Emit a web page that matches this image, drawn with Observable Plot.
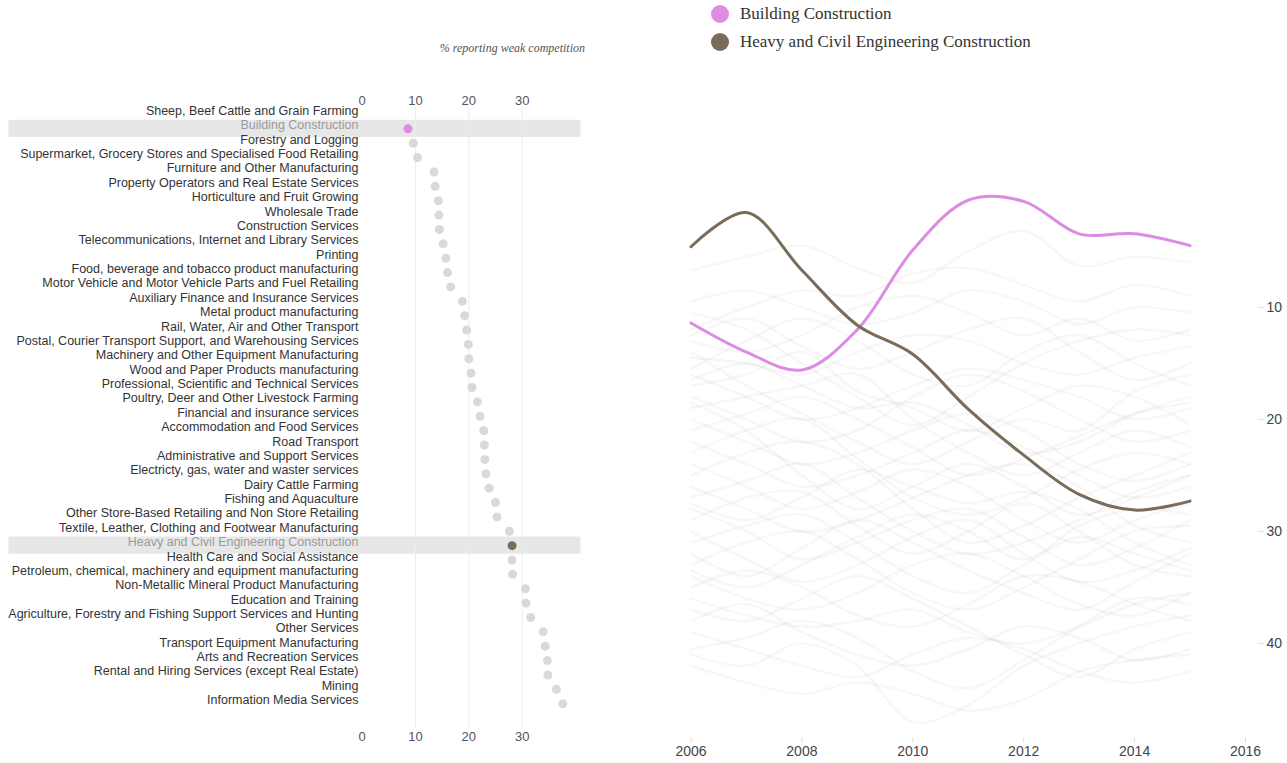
<!DOCTYPE html>
<html>
<head>
<meta charset="utf-8">
<script src="https://cdn.jsdelivr.net/npm/d3@7"></script>
<script src="https://cdn.jsdelivr.net/npm/@observablehq/plot@0.6"></script>
<style>
  html, body { margin: 0; padding: 0; background: #fff; }
  body { width: 1287px; height: 763px; position: relative; overflow: hidden; font-family: "Liberation Sans", Arial, sans-serif; }
  #title { position: absolute; left: 280px; width: 305px; top: 41px; text-align: right; font-family: "Liberation Serif", "Times New Roman", serif; font-style: italic; font-size: 12px; color: #555; }
  #left { position: absolute; left: 0; top: 0; }
  #right { position: absolute; left: 600px; top: 0; }
  #legend { position: absolute; left: 711px; top: 0px; font-family: "Liberation Serif", "Times New Roman", serif; font-size: 17px; color: #333; }
  .item { display: flex; align-items: center; height: 28px; }
  .sw { width: 18px; height: 18px; border-radius: 50%; margin-right: 11px; }
</style>
</head>
<body>
<div id="title">% reporting weak competition</div>
<div id="left"></div>
<div id="right"></div>
<div id="legend"></div>
<script>
// ---------- data ----------
const industries = [
  "Sheep, Beef Cattle and Grain Farming",
  "Building Construction",
  "Forestry and Logging",
  "Supermarket, Grocery Stores and Specialised Food Retailing",
  "Furniture and Other Manufacturing",
  "Property Operators and Real Estate Services",
  "Horticulture and Fruit Growing",
  "Wholesale Trade",
  "Construction Services",
  "Telecommunications, Internet and Library Services",
  "Printing",
  "Food, beverage and tobacco product manufacturing",
  "Motor Vehicle and Motor Vehicle Parts and Fuel Retailing",
  "Auxiliary Finance and Insurance Services",
  "Metal product manufacturing",
  "Rail, Water, Air and Other Transport",
  "Postal, Courier Transport Support, and Warehousing Services",
  "Machinery and Other Equipment Manufacturing",
  "Wood and Paper Products manufacturing",
  "Professional, Scientific and Technical Services",
  "Poultry, Deer and Other Livestock Farming",
  "Financial and insurance services",
  "Accommodation and Food Services",
  "Road Transport",
  "Administrative and Support Services",
  "Electricty, gas, water and waster services",
  "Dairy Cattle Farming",
  "Fishing and Aquaculture",
  "Other Store-Based Retailing and Non Store Retailing",
  "Textile, Leather, Clothing and Footwear Manufacturing",
  "Heavy and Civil Engineering Construction",
  "Health Care and Social Assistance",
  "Petroleum, chemical, machinery and equipment manufacturing",
  "Non-Metallic Mineral Product Manufacturing",
  "Education and Training",
  "Agriculture, Forestry and Fishing Support Services and Hunting",
  "Other Services",
  "Transport Equipment Manufacturing",
  "Arts and Recreation Services",
  "Rental and Hiring Services (except Real Estate)",
  "Mining",
  "Information Media Services"
];
const weakPct = [null, 8.6, 9.6, 10.4, 13.5, 13.7, 14.3, 14.4, 14.5, 15.2, 15.7, 16.0, 16.6,
  18.8, 19.2, 19.6, 19.9, 20.0, 20.4, 20.6, 21.6, 22.1, 22.8, 22.9, 23.0, 23.2, 23.8, 25.0,
  25.3, 27.6, 28.1, 28.1, 28.2, 30.6, 30.7, 31.6, 33.9, 34.3, 34.7, 34.8, 36.4, 37.6];

const highlightNames = ["Building Construction", "Heavy and Civil Engineering Construction"];
const highlightColors = ["#dc8ce2", "#7b6b5a"];

const years = [2006, 2007, 2008, 2009, 2010, 2011, 2012, 2013, 2014, 2015];
const buildingRanks = [11.4, 14.0, 15.6, 12.0, 4.9, 0.45, 0.55, 3.45, 3.45, 4.5];
const heavyRanks = [4.6, 1.55, 6.7, 11.6, 14.2, 19.1, 23.2, 26.7, 28.1, 27.3];

// background series, in the order of industries without the two highlighted ones
const backgroundRanks = [
  [6.7, 5.5, 4.5, 6.5, 7.8, 5.0, 3.2, 6.3, 5.5, 6.0],
  [12, 10, 8.5, 9, 7, 6.5, 8, 9.5, 8, 9],
  [13, 14, 12.5, 10, 9, 10.5, 12.5, 11, 13, 12],
  [14.5, 15, 16, 14, 12.5, 13, 15, 16, 14.5, 13.5],
  [15.5, 13, 11, 13, 16, 17, 14, 12.5, 15, 17],
  [16, 18, 20, 19, 17, 15.5, 16.5, 18, 20, 19],
  [17, 16, 14, 17.5, 19, 21, 19, 17, 18, 20.5],
  [18, 20, 22, 21, 18, 16, 17.5, 20, 22, 21],
  [14, 17, 19.5, 22, 24, 22, 20, 21, 17.5, 16],
  [19, 18, 17, 16, 20, 23, 25, 23, 21, 22.5],
  [20, 22, 24, 23, 21, 19.5, 21, 24, 25.5, 24],
  [21, 19.5, 18, 20, 22.5, 25, 23.5, 21.5, 19.5, 18.5],
  [22, 24, 26, 25, 23, 21, 22.5, 25, 27, 26],
  [23, 21, 20, 23.5, 27, 28.5, 27, 24.5, 23, 24],
  [18.5, 21, 25, 28, 26, 24, 26, 28.5, 27, 25],
  [24, 26, 28, 26.5, 24.5, 26, 29, 31, 29, 27.5],
  [25, 23, 22, 24, 28, 31, 29.5, 27, 25, 23],
  [26, 28, 30, 29, 27, 25, 24, 26, 29.5, 31],
  [27, 25.5, 24, 27, 30, 32, 31, 29, 26.5, 25],
  [28, 30, 32.5, 31, 29, 28, 30.5, 33, 31.5, 29],
  [29, 27, 26.5, 29.5, 32, 30, 27.5, 30, 33, 34],
  [30, 32.5, 34.5, 33, 30.5, 29, 32, 34.5, 33.5, 31.5],
  [31, 29.5, 28.5, 31, 34, 35.5, 33, 30.5, 32, 33.5],
  [32, 34, 31.5, 29, 31, 33.5, 35.5, 37, 34.5, 32],
  [33, 31, 30, 32.5, 35.5, 37, 35, 32.5, 30, 29.5],
  [34, 36, 37, 35.5, 33, 32, 34, 36.5, 37.5, 35.5],
  [35, 33.5, 35, 37.5, 38.5, 36.5, 34, 34.5, 36.5, 38],
  [36, 37.5, 38.5, 38, 37, 39, 40, 38.5, 36.5, 35.5],
  [37, 38, 36, 34, 36, 38.5, 41, 43, 40.5, 39],
  [38, 36.5, 39, 41, 42, 40.5, 38.5, 39.5, 41.5, 40.5],
  [40.5, 39.5, 38, 39.5, 42.5, 44, 41.5, 38.5, 36, 36.5],
  [41, 42, 40, 42, 47, 45.5, 42, 40, 38.5, 37.5],
  [39, 40.5, 42, 43, 41, 39.5, 40.5, 42.5, 43.5, 42.5],
  [10.5, 12, 15, 18, 20.5, 18, 15, 13, 12, 12.5],
  [12.5, 11, 13.5, 15.5, 14, 12, 11, 14, 16.5, 15],
  [42, 43.5, 44.5, 43.5, 44.5, 46, 45, 42.5, 41.5, 41],
  [16.5, 15, 17, 19, 18.5, 20.5, 23, 22, 19.5, 18],
  [9.5, 8.5, 10, 11.5, 10.5, 8.5, 9.5, 11.5, 10, 10.5],
  [27.5, 29, 27, 24.5, 26, 27.5, 26.5, 28, 31, 33],
  [33.5, 35, 33, 30.5, 28.5, 30, 32.5, 29.5, 28, 28.5]
];

const pctTicks = [0, 10, 20, 30];
const pctMax = 41;
const yearTicks = [2006, 2008, 2010, 2012, 2014, 2016];
const rankTicks = [10, 20, 30, 40];
const rankMax = 48.4;

// ---------- tables ----------
const rows = industries.map((name, i) => ({name, value: weakPct[i]}));
const greyDots = rows.filter(d => d.value != null && !highlightNames.includes(d.name));
const bgNames = industries.filter(n => !highlightNames.includes(n));
const bgTable = bgNames.flatMap((name, i) => years.map((year, j) => ({name, year, rank: backgroundRanks[i][j]})));
const buildingTable = years.map((year, j) => ({year, rank: buildingRanks[j]}));
const heavyTable = years.map((year, j) => ({year, rank: heavyRanks[j]}));

const font = "'Liberation Sans', Arial, sans-serif";

// ---------- left: dot plot ----------
const left = Plot.plot({
  width: 600,
  height: 763,
  marginLeft: 361.5,
  marginRight: 19.5,
  marginTop: 107,
  marginBottom: 35,
  style: {fontFamily: font, fontSize: "12px", background: "transparent", overflow: "visible"},
  x: {domain: [0, pctMax]},
  y: {domain: industries, range: [106.8, 710.4], padding: 0, round: false, axis: null},
  marks: [
    Plot.barX(highlightNames, {y: d => d, x1: 0, x2: pctMax, fill: "#e7e7e7", insetLeft: -353, insetTop: -1.4, insetBottom: -1.4}),
    Plot.gridX({ticks: pctTicks.slice(1), stroke: "#ececec", strokeOpacity: 1}),
    Plot.axisX({anchor: "top", ticks: pctTicks, tickSize: 0, tickPadding: 3, fill: "#555", fontSize: 13, label: null}),
    Plot.axisX({anchor: "bottom", ticks: pctTicks, tickSize: 0, tickPadding: 3, fill: "#555", fontSize: 13, label: null}),
    Plot.text(industries.filter(n => !highlightNames.includes(n)), {x: 0, y: d => d, text: d => d, textAnchor: "end", dx: -3.5, dy: -3.5, fill: "#333", fontSize: 12.5}),
    Plot.text(highlightNames, {x: 0, y: d => d, text: d => d, textAnchor: "end", dx: -3.5, dy: -3.5, fill: "#9a9a9a", fontSize: 12.5}),
    Plot.dot(greyDots, {x: "value", y: "name", r: 4.5, fill: "#d9d9d9"}),
    Plot.dot(rows.filter(d => d.name === highlightNames[0]), {x: "value", y: "name", r: 4.5, fill: highlightColors[0]}),
    Plot.dot(rows.filter(d => d.name === highlightNames[1]), {x: "value", y: "name", r: 4.5, fill: highlightColors[1]})
  ]
});
document.getElementById("left").appendChild(left);

// ---------- right: line chart ----------
const right = Plot.plot({
  width: 687,
  height: 763,
  marginLeft: 90.5,
  marginRight: 30,
  marginTop: 194.7,
  marginBottom: 26,
  style: {fontFamily: font, fontSize: "14px", background: "transparent", overflow: "visible"},
  x: {domain: [2006, 2016], insetRight: 12},
  y: {domain: [0, rankMax], reverse: true},
  marks: [
    Plot.axisX({ticks: yearTicks, tickFormat: d => String(d), tickSize: 6, tickPadding: 3, stroke: "#e2e2e2", fill: "#444", fontSize: 14, label: null}),
    Plot.axisY({anchor: "right", ticks: rankTicks, tickSize: 6, tickPadding: 3, stroke: "#e2e2e2", fill: "#444", fontSize: 14, label: null}),
    Plot.line(bgTable, {x: "year", y: "rank", z: "name", stroke: "#b0b0b0", strokeOpacity: 0.1, strokeWidth: 2.5, curve: "catmull-rom"}),
    Plot.line(buildingTable, {x: "year", y: "rank", stroke: highlightColors[0], strokeWidth: 3, curve: "catmull-rom"}),
    Plot.line(heavyTable, {x: "year", y: "rank", stroke: highlightColors[1], strokeWidth: 3, curve: "catmull-rom"})
  ]
});
document.getElementById("right").appendChild(right);

// ---------- legend ----------
const legend = document.getElementById("legend");
highlightNames.forEach((name, i) => {
  const item = document.createElement("div");
  item.className = "item";
  const sw = document.createElement("span");
  sw.className = "sw";
  sw.style.background = highlightColors[i];
  const label = document.createElement("span");
  label.textContent = name;
  item.appendChild(sw);
  item.appendChild(label);
  legend.appendChild(item);
});
</script>
</body>
</html>
